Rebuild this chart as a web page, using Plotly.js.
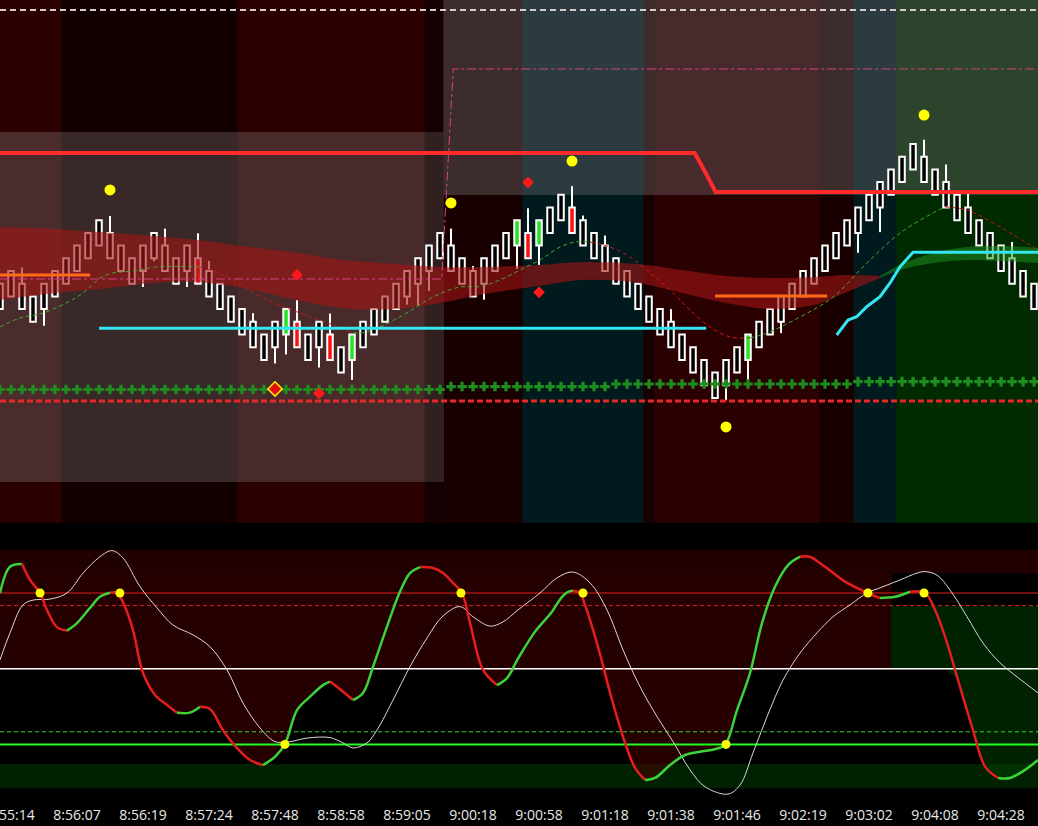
<!DOCTYPE html>
<html><head><meta charset="utf-8">
<script src="https://cdn.plot.ly/plotly-3.0.1.min.js"></script>
<style>html,body{margin:0;padding:0;background:#000;overflow:hidden}#chart{width:1038px;height:826px}</style>
</head><body><div id="chart"></div>
<script>
// ---------------- DATA ----------------
// Renko bricks: top of each brick (brick units), brick height = 2 units
const BRICK = 2;
const brickTop = [17,18,17,16,17,18,19,20,21,22, 21,20,19,20,21,20,19,20,19,18,
  17,16,15,14,13,14,15,14,13,14, 13,12,13,14,15,16,17,18,19,20,
  21,20,19,18,19,20,21,22,21,22, 23,24,23,22,21,20,19,18,17,16,
  15,14,13,12,11,10,11,12,13,14, 15,16,17,18,19,20,21,22,23,24,
  25,26,27,28,27,26,25,24,23,22, 21,20,19,18,17];
const greenBricks = [26,32,47,49,68];
const redBricks = [18,27,30,48,52];
const upWickIdx = [2,10,15,18,19,23,27,30,41,43,48,52,53,55,61,84,86,88,92];
const upWickLen = [1.28,1.34,1.34,1.97,0.79,0.68,1.7,1.65,1.34,0.4,1.94,1.68,0.37,0.79,1.0,1.34,1.39,1.36,1.28];
const dnWickIdx = [4,13,14,17,25,26,29,32,37,38,39,44,47,49,66,68,71,78,80];
const dnWickLen = [1.31,1.26,0.24,1.26,1.28,1.57,1.6,1.57,0.65,1.73,1.57,1.26,1.83,1.52,1.18,1.57,0.89,1.57,1.94];

// moving average (thin dashed)
const maX = [0,1.82,3.91,7,8.18,9.09,10.27,12.09,14.27,18.18,19.09,21.18,24.27,27.27,30.27,32.09,33.36,36.36,39.36,41.82,43.64,45.45,47.27,49.09,50.91,52.27,53.64,55.45,57.27,59.09,60.91,62.73,64.55,66.36,68.18,69.73,72.73,75.73,78.82,81.82,84.82,85.91,87.91,90.91,94.36];
const maY = [13.59,14.3,14.69,15.95,16.74,17.45,17.84,18.0,18.32,18.32,18.08,17.29,15.72,14.69,13.75,13.12,13.2,14.38,15.95,16.74,16.77,17.29,18.08,18.87,19.89,20.28,20.28,19.89,19.1,17.84,16.51,14.93,13.59,12.81,12.73,13.12,14.38,15.95,18.63,20.99,22.57,23.04,22.8,21.47,19.65];

// ribbons
const ribX = [0,5,9,14,18,22,27,31,36,40,44,49,53,58,62,66,70,74,77,80];
const ribHi = [21.47,21.31,21.07,20.76,20.44,19.97,19.42,18.87,18.55,18.32,18.32,18.47,18.71,18.55,18.08,17.61,17.45,17.53,17.69,17.61];
const ribLo = [15.72,16.27,16.58,17.06,17.13,16.66,15.72,15.09,15.01,15.48,16.19,16.82,17.29,17.06,16.27,15.48,15.01,15.32,16.35,17.45];
const gribX = [80,81.82,84.82,87.91,90.91,94.36];
const gribHi = [17.61,18.47,19.42,19.89,19.97,19.81];
const gribLo = [17.45,18.08,18.63,18.87,18.79,18.63];

// levels
const topDashLevel = 38.55;
const stopX = [0,40.15,41.2,94.36];
const stopY = [17.37,17.37,33.91,33.91];
const resX = [0,63.15,64.1,65.05,94.36];
const resY = [27.29,27.29,25.8,24.22,24.22];
const supLevel = 7.77;
const orange1X = [0,8.2], orange1Y = [17.69,17.69];
const orange2X = [65,75.2], orange2Y = [16.03,16.03];
const cyan1X = [9,64.2], cyan1Y = [13.49,13.49];
const cyan2X = [76.06,77.09,77.88,78.79,80,80.91,81.82,83,94.36];
const cyan2Y = [12.96,14.14,14.4,15.19,15.98,17.06,18.34,19.47,19.47];
const crossLevel = [8.67,8.67,8.67,8.67,8.67,8.67,8.67,8.67,8.67,8.67,
  8.67,8.67,8.67,8.67,8.67,8.67,8.67,8.67,8.67,8.67,
  8.67,8.67,8.67,8.67,8.67,null,8.67,8.67,8.67,8.67,
  8.67,8.67,8.67,8.67,8.67,8.67,8.67,8.67,8.67,8.67,8.67,
  8.9,8.9,8.9,8.9,8.9,8.9,8.9,8.9,8.9,8.9,8.9,8.9,8.9,8.9,8.9,
  9.1,9.1,9.1,9.1,9.1,9.1,9.1,9.1,9.1,9.1,9.1,9.1,9.1,9.1,9.1,9.1,9.1,9.1,9.1,9.1,9.1,9.1,
  9.29,9.29,9.29,9.29,9.29,9.29,9.29,9.29,9.29,9.29,9.29,9.29,9.29,9.29,9.29,9.29,9.29];
const dotX = [10,41,52,66,84];
const dotY = [24.38,23.36,26.66,5.72,30.28];
const diaX = [27,29,48,49];
const diaY = [17.69,8.37,24.98,16.32];
const signalDiaX = [25], signalDiaY = [8.71];

// background zones (bar positions)
const zoneEdges = [0,5.6,21.6,38.6,40.3,47.5,58.5,59.5,74.5,77.6,81.5,94.4];
const leftBandLo = 1.39, leftBandHi = 28.95, rightBandLo = 23.99;

// oscillator panel
const oscX = [0,0.91,2,2.73,3.64,4.27,5.18,6.09,7,8.18,9.09,10,10.64,11.36,12.09,13,14.09,15.18,16.09,17.27,18.18,19.09,20.27,21.55,22.73,23.91,25,25.91,27,28.18,29.36,30,31.18,32.09,33,33.91,35.18,36.36,37.27,38.18,39.36,40.27,41.18,42,42.73,43.91,45.18,46.09,47.09,48.64,50.18,51.09,51.64,52.09,52.73,53.18,54.36,55.64,56.82,57.73,58.64,59.55,60.91,62.27,63.64,65,65.91,67,68.18,69.27,70.45,71.64,72.73,73.64,75,76.82,78.64,80,81.36,82.73,84.09,85,85.91,87.09,88.45,89.55,90.73,91.82,93.18,94.36];
const oscV = [80,90.4,91.5,85.2,80,73.3,66.5,65.1,68.1,74.1,78.5,80.1,80,74.6,65.3,48.3,39.6,35.6,32.5,32.6,34.9,34,25.6,18.5,13.8,11.8,15.1,20.2,33.6,38.9,43.5,44.9,40.9,37.6,40.4,50.8,66.7,80.5,87.9,90.3,89.9,87.9,84,80,68.1,49.5,43.5,46.3,54,64.7,72.6,78.5,80.5,80.9,80,75.3,58.7,37.6,20.6,10.7,5.9,6.7,11.8,15.8,17.1,18.1,19.8,33.6,48.3,68.1,82.5,91.1,94.4,94.3,90.4,84.5,80.5,78,78.5,80.5,80,73.3,62.7,45.5,25.7,11.2,6.7,6.7,9.9,13.8];
const sigX = [0,0.91,2.09,3,4.55,6.09,7.55,9.09,10.18,11.18,12.73,14.27,15.73,17.55,19.09,20.64,22.09,23.64,25,26.36,27.91,30,31.18,32.09,33.36,34.27,35.73,37.27,38.82,40.27,41.82,43,44.55,45.73,47.09,49.09,50.64,52.09,53.64,55.18,56.64,58.18,59.73,61.18,62.73,64.09,66.18,67.27,68.45,69.73,71.18,72.73,74.27,75.73,77.27,78.82,80.27,81.82,83.36,84.09,85.18,86.36,87.91,89.36,90.91,92.45,94.36];
const sigV = [53.5,64.2,75.3,77.2,77.6,80,87.9,94.4,96.8,93.9,82.5,74.1,67.3,63.4,58.7,49.5,36.4,26.5,21.1,21.1,22.5,22.7,20.6,18.6,20.6,25.7,37.6,50.8,62.2,70.9,74.6,70.6,66.9,68.6,73.3,80,86,88.3,84,73.3,57.4,42.9,31,21.1,9.9,3.2,0.3,3.9,16.6,31,45.5,56.2,64.2,70.6,75.3,80,82.5,85.2,87.9,88.5,87.1,81.2,70.6,60.2,52.3,46.8,40.4];
const oscLevels = {ob:80, obWarn:75, mid:50, osWarn:25, os:20};
const oscBandTop = [87.8,97.2], oscBandBot = [2.6,12.2];
const oscZoneSplit = 81.36;
const oscDotX = [3.64,10.9,25.9,41.9,53,66,78.9,84];
const oscDotV = [80,80,20,80,80,20,80,80];

// time labels
const tickBars = [1,7,13,19,25,31,37,43,49,55,61,67,73,79,85,91];
const tickLabels = ["8:55:14","8:56:07","8:56:19","8:57:24","8:57:48","8:58:58","8:59:05","9:00:18","9:00:58","9:01:18","9:01:38","9:01:46","9:02:19","9:03:02","9:04:08","9:04:28"];

// ---------------- STYLE ----------------
const zoneDark  = ['#2a0000','#120000','#2a0000','#140000','#180000','#001a1e','#180000','#2a0000','#180000','#001a1e','#002a00'];
const zoneLight = ['#4a2c2c','#382828','#482a2a','#302020','#3c2c2c','#2b3b3f','#3c2c2c','#472a2c','#3c2c2c','#2b3b3f','#2c432c'];
const X_RANGE = [0,94.36];
const Y1_RANGE = [-1.82,39.34];
const Y2_RANGE = [-4.02,100];

// ---------------- BUILD ----------------
const idx = brickTop.map((_,i)=>i);
const traces = [];
const T1 = {xaxis:'x', yaxis:'y', hoverinfo:'skip'};
const T2 = {xaxis:'x2', yaxis:'y2', hoverinfo:'skip'};

const barColors = idx.map(i => greenBricks.includes(i) ? '#22e422' : (redBricks.includes(i) ? '#ff1010' : '#000000'));
traces.push(Object.assign({type:'bar', x:idx, y:brickTop.map(()=>BRICK), base:brickTop.map(t=>t-BRICK), width:0.5,
  marker:{color:barColors, line:{color:'#ffffff', width:2}}}, T1));

const wx=[], wy=[];
upWickIdx.forEach((i,k)=>{ wx.push(i,i,null); wy.push(brickTop[i], brickTop[i]+upWickLen[k], null); });
dnWickIdx.forEach((i,k)=>{ const b=brickTop[i]-BRICK; wx.push(i,i,null); wy.push(b, b-dnWickLen[k], null); });
traces.push(Object.assign({type:'scatter', mode:'lines', x:wx, y:wy, line:{color:'#ffffff', width:2}}, T1));

// ribbons
traces.push(Object.assign({type:'scatter', mode:'lines', x:ribX, y:ribLo, line:{width:0, shape:'spline'}}, T1));
traces.push(Object.assign({type:'scatter', mode:'lines', x:ribX, y:ribHi, fill:'tonexty', fillcolor:'rgba(165,20,20,0.6)', line:{width:0, shape:'spline'}}, T1));
traces.push(Object.assign({type:'scatter', mode:'lines', x:gribX, y:gribLo, line:{width:0, shape:'spline'}}, T1));
traces.push(Object.assign({type:'scatter', mode:'lines', x:gribX, y:gribHi, fill:'tonexty', fillcolor:'rgba(30,150,30,0.5)', line:{width:0, shape:'spline'}}, T1));

function runs(xs, ys){
  const out=[]; let cur=null;
  for(let k=0;k<xs.length-1;k++){
    const up = ys[k+1] >= ys[k];
    if(!cur || cur.up!==up){ cur={up:up, x:[xs[k]], y:[ys[k]]}; out.push(cur); }
    cur.x.push(xs[k+1]); cur.y.push(ys[k+1]);
  }
  return out;
}
runs(maX, maY).forEach(r=>traces.push(Object.assign({type:'scatter', mode:'lines', x:r.x, y:r.y,
  line:{color:r.up?'#3fae2f':'#c81818', width:1, dash:'4px,3px', shape:'spline'}}, T1)));

traces.push(Object.assign({type:'scatter', mode:'lines', x:cyan1X, y:cyan1Y, line:{color:'#33e6f2', width:3}}, T1));
traces.push(Object.assign({type:'scatter', mode:'lines', x:cyan2X, y:cyan2Y, line:{color:'#33e6f2', width:3}}, T1));
traces.push(Object.assign({type:'scatter', mode:'lines', x:orange1X, y:orange1Y, line:{color:'#ff6a1a', width:3}}, T1));
traces.push(Object.assign({type:'scatter', mode:'lines', x:orange2X, y:orange2Y, line:{color:'#ff6a1a', width:3}}, T1));
traces.push(Object.assign({type:'scatter', mode:'lines', x:resX, y:resY, line:{color:'#ff2a2a', width:4}}, T1));
traces.push(Object.assign({type:'scatter', mode:'lines', x:stopX, y:stopY, line:{color:'#d8408a', width:1, dash:'dashdot'}}, T1));
traces.push(Object.assign({type:'scatter', mode:'lines', x:X_RANGE, y:[topDashLevel,topDashLevel], line:{color:'#d6cccc', width:2, dash:'6px,4px'}}, T1));
traces.push(Object.assign({type:'scatter', mode:'lines', x:X_RANGE, y:[supLevel,supLevel], line:{color:'#e82828', width:3, dash:'6px,3px'}}, T1));
traces.push(Object.assign({type:'scatter', mode:'markers', x:idx, y:crossLevel, marker:{symbol:'cross', size:8, color:'#1f8c1f'}}, T1));
traces.push(Object.assign({type:'scatter', mode:'markers', x:diaX, y:diaY, marker:{symbol:'diamond', size:9, color:'#ff1a1a'}}, T1));
traces.push(Object.assign({type:'scatter', mode:'markers', x:signalDiaX, y:signalDiaY, marker:{symbol:'diamond', size:11, color:'#e01010', line:{color:'#ffee00', width:1.5}}}, T1));
traces.push(Object.assign({type:'scatter', mode:'markers', x:dotX, y:dotY, marker:{symbol:'circle', size:11, color:'#ffff00'}}, T1));

// ----- oscillator panel -----
const fillY = oscV.map(v=>Math.min(v, oscLevels.mid));
const redIdx = oscX.map((x,k)=>k).filter(k=>oscX[k]<=oscZoneSplit);
const grnIdx = oscX.map((x,k)=>k).filter(k=>oscX[k]>=oscZoneSplit);
[[redIdx,'rgba(70,0,0,0.55)'],[grnIdx,'rgba(0,62,0,0.55)']].forEach(([ks,col])=>{
  const xs = ks.map(k=>oscX[k]);
  traces.push(Object.assign({type:'scatter', mode:'lines', x:xs, y:xs.map(()=>oscLevels.mid), line:{width:0}}, T2));
  traces.push(Object.assign({type:'scatter', mode:'lines', x:xs, y:ks.map(k=>fillY[k]), fill:'tonexty', fillcolor:col, line:{width:0}}, T2));
});
const hl = (v,color,width,dash)=>traces.push(Object.assign({type:'scatter', mode:'lines', x:X_RANGE, y:[v,v], line:{color:color, width:width, dash:dash||'solid'}}, T2));
hl(oscLevels.ob,'#e02020',1);
hl(oscLevels.obWarn,'#e02020',1,'4px,3px');
hl(oscLevels.mid,'#ffffff',1.5);
hl(oscLevels.osWarn,'#33d633',1,'4px,3px');
hl(oscLevels.os,'#22ff22',2);
traces.push(Object.assign({type:'scatter', mode:'lines', x:sigX, y:sigV, line:{color:'#d8d8d8', width:1, shape:'spline'}}, T2));
runs(oscX, oscV).forEach(r=>traces.push(Object.assign({type:'scatter', mode:'lines', x:r.x, y:r.y,
  line:{color:r.up?'#3ad43a':'#e41e1e', width:2.5, shape:'spline'}}, T2)));
traces.push(Object.assign({type:'scatter', mode:'markers', x:oscDotX, y:oscDotV, marker:{symbol:'circle', size:9, color:'#ffff00'}}, T2));

// ----- shapes (drawn overlapping in order, so no seams) -----
const shapes = [];
const nZ = zoneEdges.length-1;
for(let z=0; z<nZ; z++){
  const x0 = z===0 ? -1 : zoneEdges[z];
  shapes.push({type:'rect', xref:'x', yref:'y', x0:x0, x1:96, y0:Y1_RANGE[0]-1, y1:Y1_RANGE[1]+1, fillcolor:zoneDark[z], line:{width:0}, layer:'below'});
}
for(let z=0; z<nZ; z++){
  const x0 = z===0 ? -1 : zoneEdges[z];
  const left = z<=3;
  const x1 = left ? zoneEdges[4] : 96;
  const lo = left ? leftBandLo : rightBandLo;
  const hi = left ? leftBandHi : Y1_RANGE[1]+1;
  shapes.push({type:'rect', xref:'x', yref:'y', x0:x0, x1:x1, y0:lo, y1:hi, fillcolor:zoneLight[z], line:{width:0}, layer:'below'});
}
shapes.push({type:'rect', xref:'x2', yref:'y2', x0:-1, x1:oscZoneSplit-0.3, y0:oscLevels.mid, y1:oscBandTop[0]+0.5, fillcolor:'#240000', line:{width:0}, layer:'below'});
shapes.push({type:'rect', xref:'x2', yref:'y2', x0:oscZoneSplit-0.36, x1:96, y0:oscLevels.mid, y1:oscLevels.obWarn, fillcolor:'#002200', line:{width:0}, layer:'below'});
shapes.push({type:'rect', xref:'x2', yref:'y2', x0:-1, x1:96, y0:oscBandTop[0], y1:oscBandTop[1], fillcolor:'#200000', line:{width:0}, layer:'below'});
shapes.push({type:'rect', xref:'x2', yref:'y2', x0:-1, x1:96, y0:oscBandBot[0], y1:oscBandBot[1], fillcolor:'#002200', line:{width:0}, layer:'below'});

const ax = {showgrid:false, zeroline:false, showline:false, fixedrange:true};
const layout = {
  width:1038, height:826, paper_bgcolor:'#000000', plot_bgcolor:'#000000',
  margin:{l:0, r:0, t:0, b:21, pad:0}, showlegend:false, hovermode:false, bargap:0,
  xaxis:Object.assign({domain:[0,1], range:X_RANGE, anchor:'y', showticklabels:false}, ax),
  yaxis:Object.assign({domain:[0.3507,1], range:Y1_RANGE, anchor:'x', showticklabels:false}, ax),
  xaxis2:Object.assign({domain:[0,1], range:X_RANGE, anchor:'y2', tickmode:'array', tickvals:tickBars, ticktext:tickLabels,
     ticks:'', ticklabeloverflow:'allow', tickfont:{family:'Open Sans, Noto Sans, sans-serif', size:14, color:'#e8e8e8'}}, ax),
  yaxis2:Object.assign({domain:[0,0.326], range:Y2_RANGE, anchor:'x2', showticklabels:false}, ax),
  shapes:shapes
};
Plotly.newPlot('chart', traces, layout, {staticPlot:true, displayModeBar:false});
</script>
</body></html>
